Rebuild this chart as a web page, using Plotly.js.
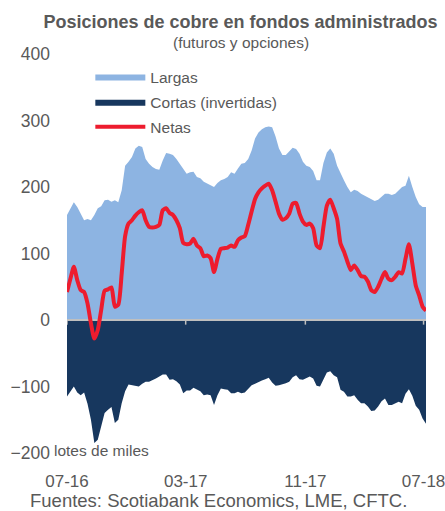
<!DOCTYPE html>
<html><head><meta charset="utf-8">
<script src="https://cdn.plot.ly/plotly-3.0.1.min.js"></script>
<style>html,body{margin:0;padding:0;background:#fff}#chart{width:445px;height:511px}</style>
</head><body><div id="chart"></div>
<script>
// Weekly data, first week starting 2016-07-01
const startDate = '2016-07-01';
const largas = [158,168,177,170,160,150,152,150,158,168,
  171,180,181,178,180,177,195,232,238,245,
  258,262,260,242,235,230,227,226,240,251,
  250,248,242,235,228,220,222,223,215,213,
  208,205,202,200,206,210,212,215,222,220,
  228,235,236,242,255,273,282,287,290,291,
  290,276,258,248,248,253,259,257,250,238,
  232,230,224,210,210,236,252,258,250,232,
  220,210,200,192,196,194,190,187,185,181,
  179,181,186,190,190,188,190,195,200,202,
  217,200,185,174,170,170];
const cortas = [-115,-107,-100,-109,-113,-109,-126,-150,-185,-180,
  -160,-140,-135,-131,-155,-150,-125,-107,-97,-98,
  -100,-100,-96,-93,-93,-91,-88,-85,-82,-82,
  -90,-89,-92,-97,-110,-106,-106,-102,-105,-107,
  -113,-112,-113,-128,-113,-103,-104,-105,-110,-110,
  -108,-110,-109,-103,-98,-96,-93,-91,-89,-87,
  -94,-99,-98,-97,-95,-93,-86,-83,-89,-90,
  -88,-85,-88,-99,-100,-90,-79,-77,-83,-86,
  -105,-108,-115,-115,-113,-120,-125,-125,-130,-137,
  -136,-130,-122,-118,-128,-128,-125,-123,-125,-111,
  -104,-114,-129,-135,-148,-156];
const netas = [42,62,80,60,45,42,25,-5,-28,-15,
  15,44,46,49,20,23,70,126,145,150,
  157,162,165,150,140,139,140,143,165,168,
  161,158,150,138,116,114,115,122,112,108,
  96,97,93,72,92,107,108,109,112,110,
  120,124,126,143,163,182,192,198,202,205,
  195,178,160,151,153,160,175,176,160,148,
  143,145,138,112,108,140,172,181,168,152,
  115,103,88,75,82,75,66,65,58,45,
  42,50,62,72,62,60,65,72,70,92,
  114,85,52,37,20,14];
const seriesNames = ['Largas', 'Cortas (invertidas)', 'Netas'];
const tickDates = ['2016-07-01', '2017-03-01', '2017-11-01', '2018-07-01'];
const tickLabels = ['07-16', '03-17', '11-17', '07-18'];
const yTicks = [-200, -100, 0, 100, 200, 300, 400];

function weeklyDates(start, n) {
  const out = [];
  const d0 = new Date(start + 'T00:00:00Z').getTime();
  for (let i = 0; i < n; i++) {
    out.push(new Date(d0 + i * 7 * 86400000).toISOString().slice(0, 10));
  }
  return out;
}
const fechas = weeklyDates(startDate, largas.length);
const xRange = [fechas[0], fechas[fechas.length - 1]];

const FONT = 'Liberation Sans, Arial, sans-serif';
const GREY = '#595959';
const AXIS = '#BFBFBF';

const traces = [
  {type: 'scatter', x: fechas, y: largas, name: seriesNames[0], mode: 'lines',
   fill: 'tozeroy', fillcolor: '#8DB4E2', line: {width: 0, color: '#8DB4E2'},
   legendgroup: 'a', hoverinfo: 'x+y'},
  {type: 'scatter', x: fechas, y: cortas, name: seriesNames[1], mode: 'lines',
   fill: 'tozeroy', fillcolor: '#17375E', line: {width: 0, color: '#17375E'},
   legendgroup: 'b', hoverinfo: 'x+y'},
  {type: 'scatter', x: xRange, y: [0, 0], mode: 'lines', showlegend: false,
   hoverinfo: 'skip', line: {color: AXIS, width: 2}},
  {type: 'scatter', x: fechas, y: netas, name: seriesNames[2], mode: 'lines',
   line: {color: '#ED1C2E', width: 4, shape: 'spline', smoothing: 0.6},
   legendgroup: 'c', hoverinfo: 'x+y'}
];

const tickShapes = tickDates.map(d => ({
  type: 'line', xref: 'x', yref: 'y', x0: d, x1: d, y0: 0, y1: -7,
  line: {color: AXIS, width: 1.5}, layer: 'above'
}));

const layout = {
  width: 445, height: 511,
  margin: {l: 67, r: 19, t: 54, b: 58, pad: 0},
  paper_bgcolor: '#fff', plot_bgcolor: '#fff',
  font: {family: FONT, color: GREY},
  title: {
    text: '<b>Posiciones de cobre en fondos administrados</b>',
    font: {family: FONT, size: 18, color: GREY},
    x: 0.5405, xref: 'container', xanchor: 'center',
    y: 0.957, yref: 'container', yanchor: 'middle'
  },
  showlegend: true,
  legend: {
    x: 0.065, y: 0.985, xanchor: 'left', yanchor: 'top',
    bgcolor: 'rgba(0,0,0,0)', font: {family: FONT, size: 15.5, color: GREY},
    traceorder: 'grouped', tracegroupgap: 2, itemwidth: 50
  },
  xaxis: {
    type: 'date', range: xRange, tickmode: 'array', tickvals: tickDates, ticktext: tickLabels,
    showgrid: false, zeroline: false, showline: false, ticks: '',
    tickfont: {family: FONT, size: 17, color: GREY}, ticklabelstandoff: 16,
    ticklabeloverflow: 'allow'
  },
  yaxis: {
    range: [-200, 400], tickmode: 'array', tickvals: yTicks,
    showgrid: false, zeroline: false, showline: false, ticks: '',
    tickfont: {family: FONT, size: 17.5, color: GREY}, ticklabelstandoff: 16
  },
  shapes: tickShapes,
  annotations: [
    {text: '(futuros y opciones)', xref: 'paper', yref: 'paper', x: 0.485, y: 1.030,
     xanchor: 'center', yanchor: 'middle', showarrow: false,
     font: {family: FONT, size: 15.5, color: GREY}},
    {text: 'lotes de miles', xref: 'paper', yref: 'paper', x: -0.043, y: 0.006,
     xanchor: 'left', yanchor: 'middle', showarrow: false,
     font: {family: FONT, size: 15.5, color: GREY}},
    {text: 'Fuentes: Scotiabank Economics, LME, CFTC.', xref: 'paper', yref: 'paper',
     x: 0.4225, y: -0.118, xanchor: 'center', yanchor: 'middle', showarrow: false,
     font: {family: FONT, size: 18.5, color: GREY}}
  ]
};

Plotly.newPlot('chart', traces, layout, {displayModeBar: false, staticPlot: true});
</script>
</body></html>
